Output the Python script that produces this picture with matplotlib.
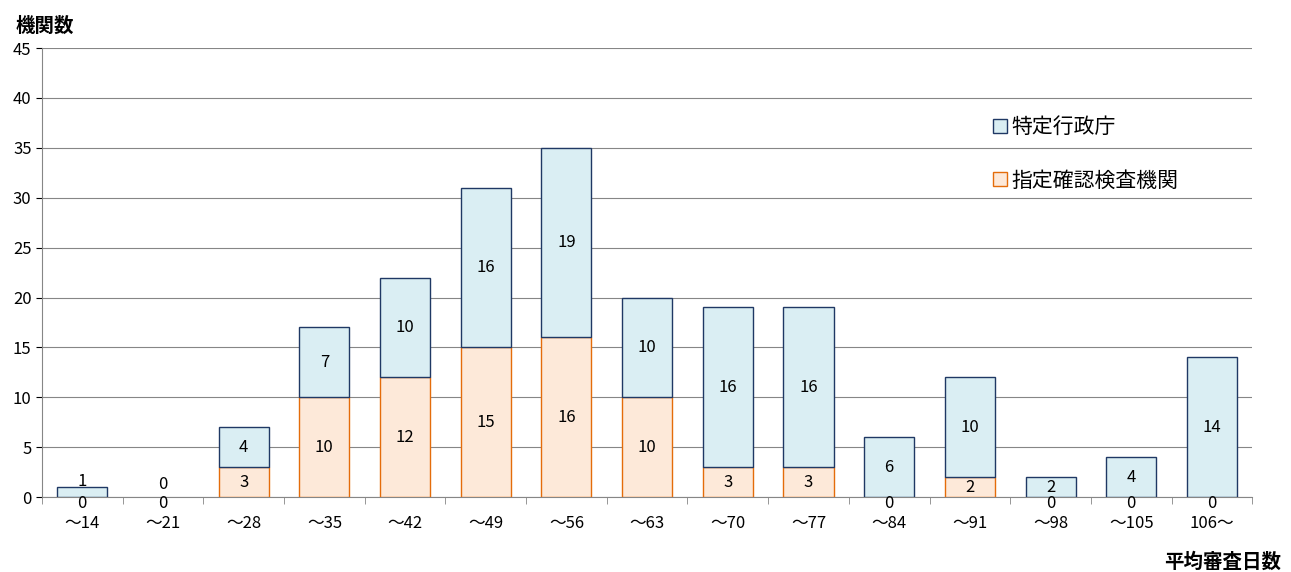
import matplotlib
matplotlib.use("Agg")
import matplotlib.pyplot as plt
from matplotlib.patches import Patch

plt.rcParams['font.family'] = ['Noto Sans CJK JP', 'DejaVu Sans']

categories = ["～14","～21","～28","～35","～42","～49","～56","～63","～70","～77","～84","～91","～98","～105","106～"]
shitei = [0,0,3,10,12,15,16,10,3,3,0,2,0,0,0]
tokutei = [1,0,4,7,10,16,19,10,16,16,6,10,2,4,14]

fig = plt.figure(figsize=(12.91,5.72), dpi=100)
ax = fig.add_axes([0.0325,0.131,0.9375,0.785])
x = list(range(len(categories)))
w = 0.62
ax.bar(x, shitei, w, color='#FDE9D9', edgecolor='#E46C0A',
       linewidth=[1 if v > 0 else 0 for v in shitei], zorder=3)
ax.bar(x, tokutei, w, bottom=shitei, color='#DAEEF3', edgecolor='#1F3864',
       linewidth=[1 if v > 0 else 0 for v in tokutei], zorder=3)

for i in x:
    b, t = shitei[i], tokutei[i]
    yb = b/2 if b > 0 else -0.6
    ax.text(i, yb, str(b), ha='center', va='center', fontsize=12, zorder=4)
    if t == 0:
        yt = b + 1.3
    elif t == 1:
        yt = b + 1.6
    else:
        yt = b + t/2
    ax.text(i, yt, str(t), ha='center', va='center', fontsize=12, zorder=4)

ax.set_xlim(-0.5, len(categories)-0.5)
ax.set_ylim(0,45)
ax.set_yticks(range(0,46,5))
ax.set_xticks(x)
ax.set_xticklabels(categories, fontsize=12)
ax.tick_params(axis='y', labelsize=12, length=4)
ax.tick_params(axis='x', length=0, pad=13)
ax.set_xticks([i-0.5 for i in range(len(categories)+1)], minor=True)
ax.tick_params(axis='x', which='minor', length=5, color='#868686')
ax.grid(axis='y', color='#868686', linewidth=0.8, zorder=0)
for s in ['top','right']:
    ax.spines[s].set_visible(False)
for s in ['left','bottom']:
    ax.spines[s].set_color('#868686')

handles = [Patch(facecolor='#DAEEF3', edgecolor='#1F3864', label='特定行政庁'),
           Patch(facecolor='#FDE9D9', edgecolor='#E46C0A', label='指定確認検査機関')]
ax.legend(handles=handles, loc='upper left', bbox_to_anchor=(0.77,0.89), frameon=False,
          fontsize=15, handlelength=0.7, handleheight=0.7, handletextpad=0.2, labelspacing=1.5)

fig.text(0.012, 0.955, '機関数', fontsize=14, fontweight='bold', ha='left', va='center')
fig.text(0.992, 0.018, '平均審査日数', fontsize=14, fontweight='bold', ha='right', va='center')

fig.savefig('out.png', dpi=100)
